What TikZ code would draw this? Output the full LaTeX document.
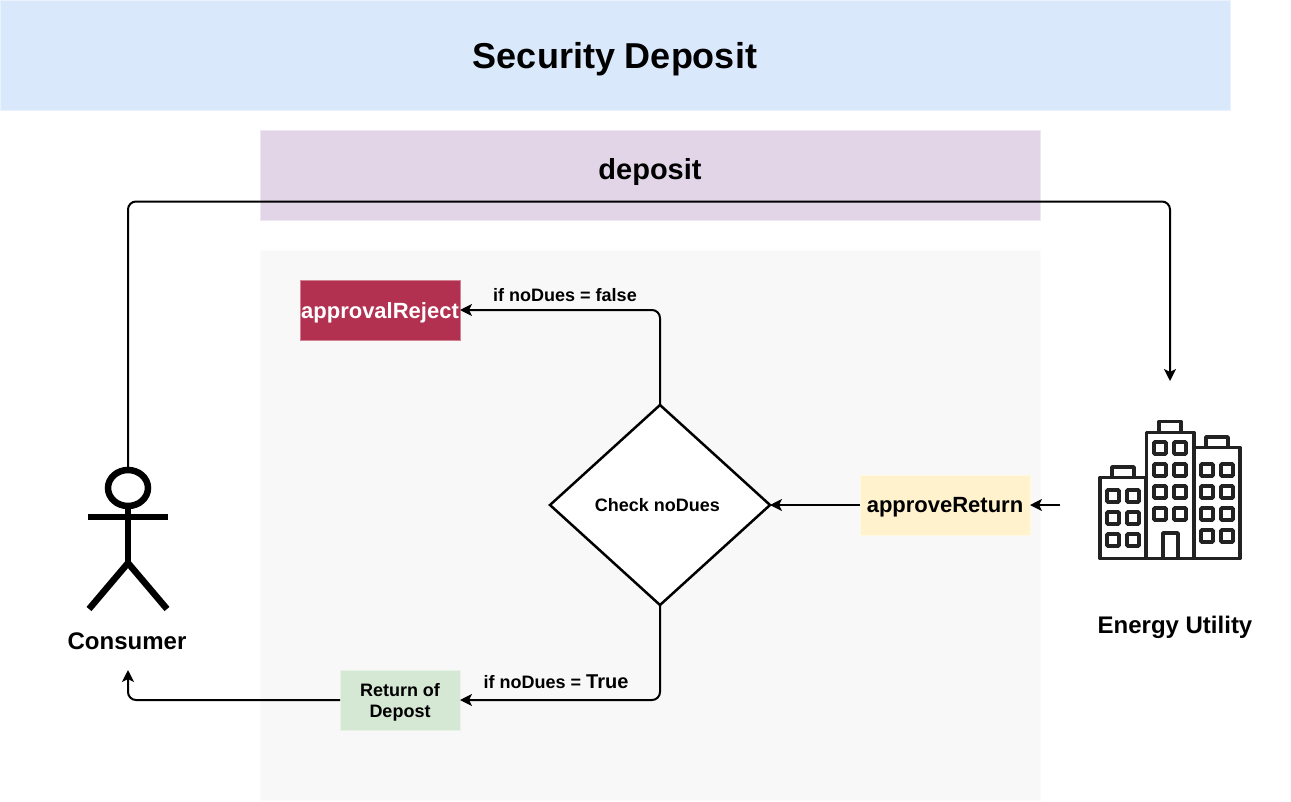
\documentclass[tikz,border=0pt]{standalone}
\usepackage{fontspec}
\setmainfont{Liberation Sans}
\usetikzlibrary{shapes.geometric,arrows.meta}
\definecolor{titlefill}{HTML}{DAE8FC}
\definecolor{depositfill}{HTML}{E1D5E7}
\definecolor{panelfill}{HTML}{F8F8F8}
\definecolor{rejectfill}{HTML}{B23050}
\definecolor{approvefill}{HTML}{FFF2CC}
\definecolor{returnfill}{HTML}{D5E8D4}
\definecolor{iconink}{HTML}{222222}
\tikzset{
  x=1pt,y=-1pt,
  box/.style={anchor=center,inner sep=0pt,outer sep=0pt,align=center,line width=1pt},
  link/.style={draw=black,line width=2pt,rounded corners=8pt,-{Stealth[length=12pt,width=12pt,inset=3pt]}},
  edgetext/.style={inner sep=0pt,font=\bfseries\fontsize{18}{21}\selectfont},
  bld/.style={draw=iconink,line width=3.6pt,line join=round,fill=none},
  win/.style={draw=iconink,line width=3.6pt,rounded corners=1pt,fill=none},
  stick/.style={draw=black,line width=6.5pt},
}
\newcommand{\winbox}[2]{\draw[win] (#1,#2) rectangle ++(12,12);}
\begin{document}
\begin{tikzpicture}
\useasboundingbox (0,0) rectangle (1291,801);
\fill[white] (0,0) rectangle (1291,801);
% banners
\node[box,fill=titlefill,draw=titlefill!55!white,minimum width=1230pt,minimum height=110pt] (title) at (615,55) {};
\node[font=\bfseries\fontsize{36}{42}\selectfont,inner sep=0pt] (titletext) at (615,59.5) {Security Deposit};
\node[box,fill=depositfill,draw=depositfill!55!white,minimum width=780pt,minimum height=90pt] (deposit) at (650,175) {};
\node[font=\bfseries\fontsize{29}{34}\selectfont,inner sep=0pt] (deposittext) at (650,172) {deposit};
\node[box,fill=panelfill,draw=panelfill!55!white,minimum width=780pt,minimum height=550pt] (panel) at (650,525) {};
% flow boxes
\node[box,fill=rejectfill,draw=rejectfill!60!white,minimum width=160pt,minimum height=60pt] (reject) at (380,310) {};
\node[text=white,inner sep=0pt,font=\bfseries\fontsize{22}{26}\selectfont] (rejecttext) at (380,313) {approvalReject};
\node[box,fill=approvefill,draw=approvefill!55!white,minimum width=170pt,minimum height=60pt] (approve) at (945,505) {};
\node[inner sep=0pt,font=\bfseries\fontsize{22}{26}\selectfont] (approvetext) at (945,507) {approveReturn};
\node[box,fill=returnfill,draw=returnfill!55!white,minimum width=120pt,minimum height=60pt] (return) at (400,700) {};
\node[inner sep=0pt,align=center,font=\bfseries\fontsize{18}{21}\selectfont] (returntext) at (400,702) {Return of\\Depost};
\node[diamond,draw=black,fill=white,line width=2.5pt,aspect=1.1,inner sep=0pt,outer sep=0pt,minimum width=220pt,minimum height=200pt] (check) at (660,505) {};
\node[inner sep=0pt,font=\bfseries\fontsize{18}{21}\selectfont] (checktext) at (657.5,505) {Check noDues};
% actor
\node[draw=black,line width=6.5pt,ellipse,minimum width=40pt,minimum height=36pt,inner sep=0pt] (head) at (128,488) {};
\coordinate (neck) at (128,507);
\coordinate (hip) at (128,563);
\draw[stick] (neck) -- (hip);
\draw[stick] (88,517) -- (168,517);
\draw[stick] (89,609) -- (hip) -- (167,609);
\node[font=\bfseries\fontsize{24}{28}\selectfont,inner sep=0pt] (consumer) at (127,641) {Consumer};
% building
\draw[bld] (1100,477.5) rectangle (1146,558.5);
\draw[bld] (1146.5,432.5) rectangle (1194,558.5);
\draw[bld] (1194,447.5) rectangle (1240,558.5);
\draw[bld] (1112,477.5) -- (1112,467) -- (1134,467) -- (1134,477.5);
\draw[bld] (1159,432.5) -- (1159,421.5) -- (1181,421.5) -- (1181,432.5);
\draw[bld] (1206,447.5) -- (1206,437) -- (1228,437) -- (1228,447.5);
\draw[bld] (1163,558.5) -- (1163,533) -- (1178,533) -- (1178,558.5);
\foreach \yy in {442,464,486,508}{\winbox{1154}{\yy}\winbox{1174}{\yy}}
\foreach \yy in {490,512,534}{\winbox{1107}{\yy}\winbox{1127}{\yy}}
\foreach \yy in {464,486,508,530}{\winbox{1201}{\yy}\winbox{1221}{\yy}}
\node[font=\bfseries\fontsize{24}{28}\selectfont,inner sep=0pt] (utility) at (1175,627) {Energy Utility};
% connector ends
\coordinate (consumerTop) at (128,469);
\coordinate (utilityTop) at (1170,381);
\coordinate (utilitySide) at (1060,505);
\coordinate (consumerBottom) at (128,670);
% connectors
\draw[link] (consumerTop) |- (650,201.5) -| (utilityTop);
\draw[link,rounded corners=0pt] (utilitySide) -- (approve.east);
\draw[link,rounded corners=0pt] (approve.west) -- (check.east);
\draw[link] (check.north) |- (reject.east);
\draw[link] (check.south) |- (return.east);
\draw[link] (return.west) -| (consumerBottom);
% edge labels
\node[edgetext] (lblfalse) at (565,295) {if noDues = false};
\node[edgetext] (lbltrue) at (556,682) {if noDues = {\fontsize{20}{21}\selectfont True}};
\end{tikzpicture}
\end{document}
